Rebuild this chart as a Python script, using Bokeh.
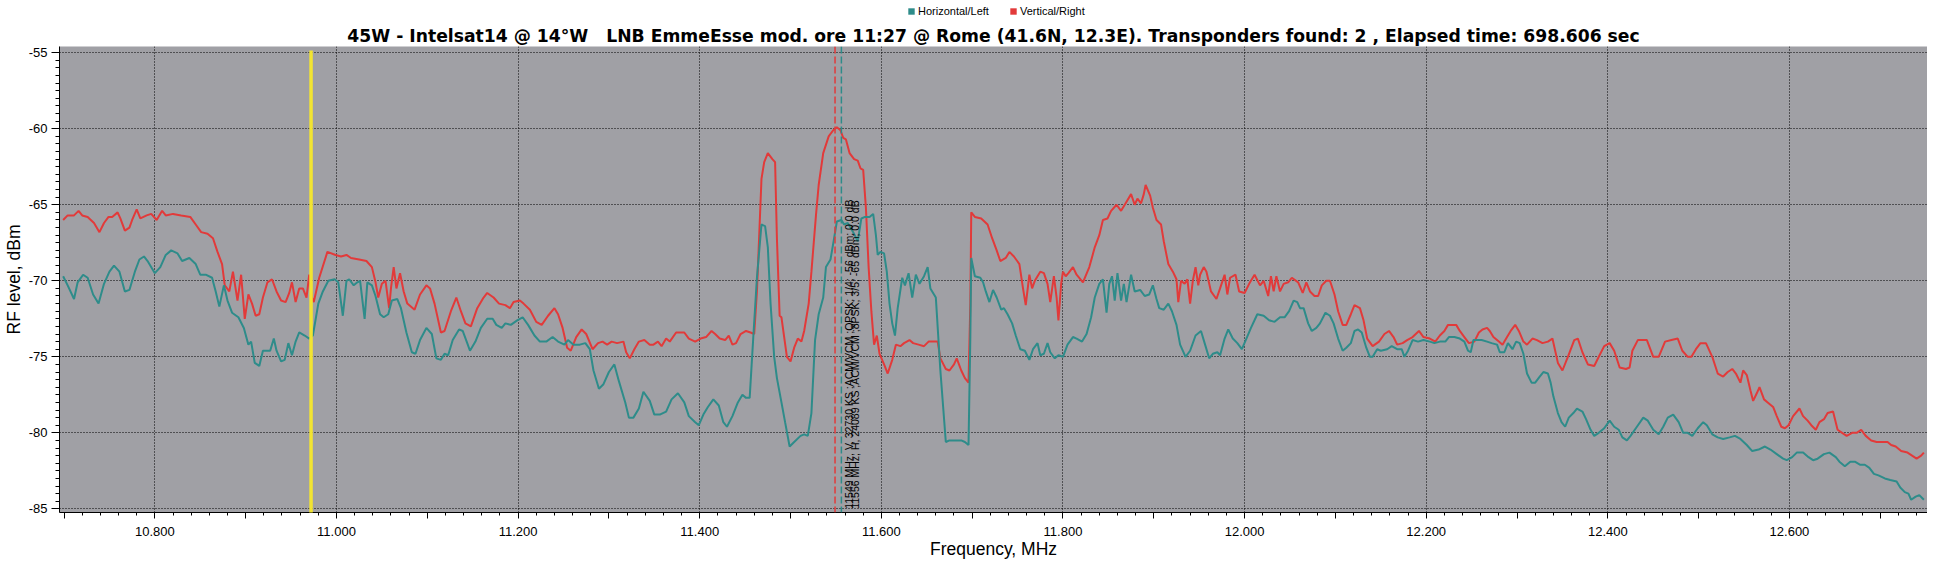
import math
from bokeh.plotting import figure
from bokeh.layouts import column
from bokeh.models import (Range1d, SingleIntervalTicker, CustomJSTickFormatter, Span,
                          Arrow, Legend, LegendItem, ColumnDataSource, Title)
from bokeh.core.properties import value
from bokeh.embed import file_html
from bokeh.resources import INLINE

# ---------------- data (GHz, dBm) ----------------
freq_h = [10.699, 10.704, 10.711, 10.715, 10.721, 10.726, 10.732, 10.738, 10.744, 10.750, 10.755, 10.761,
          10.767, 10.772, 10.778, 10.783, 10.788, 10.792, 10.800, 10.806, 10.812, 10.818, 10.825, 10.830,
          10.838, 10.845, 10.850, 10.856, 10.863, 10.867, 10.871, 10.876, 10.880, 10.885, 10.892, 10.898,
          10.903, 10.906, 10.910, 10.915, 10.919, 10.924, 10.927, 10.931, 10.934, 10.939, 10.943, 10.947,
          10.951, 10.955, 10.959, 10.965, 10.970, 10.974, 10.980, 10.985, 10.991, 10.998, 11.002, 11.007,
          11.011, 11.014, 11.019, 11.023, 11.026, 11.031, 11.034, 11.039, 11.043, 11.048, 11.052, 11.057,
          11.061, 11.067, 11.071, 11.077, 11.083, 11.087, 11.092, 11.099, 11.105, 11.110, 11.115, 11.119,
          11.123, 11.128, 11.135, 11.139, 11.144, 11.147, 11.153, 11.159, 11.166, 11.172, 11.176, 11.182,
          11.186, 11.192, 11.199, 11.205, 11.211, 11.218, 11.224, 11.231, 11.238, 11.244, 11.251, 11.255,
          11.261, 11.268, 11.274, 11.279, 11.283, 11.289, 11.294, 11.300, 11.306, 11.311, 11.318, 11.322,
          11.327, 11.333, 11.338, 11.345, 11.350, 11.356, 11.363, 11.369, 11.376, 11.383, 11.388, 11.395,
          11.399, 11.404, 11.409, 11.415, 11.421, 11.426, 11.430, 11.436, 11.442, 11.447, 11.451, 11.455,
          11.459, 11.463, 11.468, 11.472, 11.475, 11.478, 11.482, 11.485, 11.490, 11.494, 11.499, 11.504,
          11.511, 11.515, 11.519, 11.523, 11.527, 11.531, 11.536, 11.539, 11.544, 11.548, 11.551, 11.556,
          11.559, 11.563, 11.569, 11.574, 11.578, 11.582, 11.587, 11.591, 11.594, 11.596, 11.599, 11.603,
          11.606, 11.609, 11.612, 11.615, 11.618, 11.623, 11.626, 11.630, 11.634, 11.638, 11.642, 11.647,
          11.651, 11.654, 11.660, 11.665, 11.671, 11.675, 11.681, 11.688, 11.692, 11.696, 11.698, 11.699,
          11.703, 11.709, 11.712, 11.715, 11.719, 11.723, 11.727, 11.732, 11.735, 11.739, 11.744, 11.748,
          11.753, 11.758, 11.763, 11.767, 11.772, 11.775, 11.779, 11.783, 11.786, 11.791, 11.795, 11.800,
          11.805, 11.811, 11.815, 11.821, 11.826, 11.831, 11.835, 11.840, 11.844, 11.848, 11.851, 11.854,
          11.857, 11.860, 11.864, 11.867, 11.870, 11.875, 11.879, 11.885, 11.890, 11.895, 11.899, 11.903,
          11.906, 11.911, 11.916, 11.920, 11.925, 11.929, 11.935, 11.940, 11.946, 11.952, 11.956, 11.961,
          11.965, 11.970, 11.973, 11.978, 11.982, 11.987, 11.992, 11.997, 12.002, 12.007, 12.014, 12.021,
          12.027, 12.033, 12.039, 12.044, 12.049, 12.054, 12.058, 12.061, 12.065, 12.070, 12.074, 12.079,
          12.083, 12.089, 12.094, 12.098, 12.103, 12.108, 12.112, 12.117, 12.121, 12.125, 12.129, 12.134,
          12.138, 12.141, 12.146, 12.150, 12.157, 12.162, 12.168, 12.173, 12.176, 12.180, 12.185, 12.191,
          12.197, 12.204, 12.209, 12.215, 12.221, 12.225, 12.231, 12.237, 12.242, 12.246, 12.249, 12.252,
          12.256, 12.261, 12.267, 12.272, 12.278, 12.281, 12.286, 12.290, 12.295, 12.299, 12.303, 12.307,
          12.311, 12.316, 12.320, 12.325, 12.329, 12.334, 12.337, 12.340, 12.345, 12.349, 12.353, 12.357,
          12.362, 12.366, 12.372, 12.376, 12.381, 12.385, 12.390, 12.396, 12.402, 12.407, 12.412, 12.416,
          12.421, 12.425, 12.432, 12.439, 12.444, 12.450, 12.456, 12.461, 12.466, 12.472, 12.478, 12.483,
          12.488, 12.493, 12.499, 12.505, 12.509, 12.515, 12.521, 12.527, 12.534, 12.540, 12.546, 12.553,
          12.559, 12.566, 12.573, 12.579, 12.586, 12.593, 12.597, 12.603, 12.608, 12.615, 12.621, 12.626,
          12.631, 12.638, 12.644, 12.651, 12.655, 12.661, 12.667, 12.672, 12.678, 12.683, 12.688, 12.693,
          12.698, 12.705, 12.711, 12.718, 12.722, 12.727, 12.731, 12.734, 12.739, 12.743, 12.748]
level_h = [-69.7, -70.3, -71.2, -70.1, -69.6, -69.8, -70.9, -71.5, -70.2, -69.4, -69.0, -69.4,
           -70.7, -70.6, -69.4, -68.6, -68.4, -68.7, -69.5, -69.1, -68.3, -68.0, -68.2, -68.7,
           -68.5, -68.9, -69.6, -69.6, -69.8, -70.7, -71.7, -70.3, -71.3, -72.1, -72.4, -73.1,
           -74.2, -74.0, -75.4, -75.6, -74.6, -74.6, -74.6, -73.8, -74.6, -75.3, -75.2, -74.1,
           -74.9, -74.0, -73.4, -73.6, -73.8, -73.6, -71.5, -70.7, -70.0, -69.9, -70.1, -72.3,
           -70.0, -69.9, -70.3, -70.1, -70.0, -72.5, -70.1, -70.3, -71.0, -72.2, -72.4, -72.2,
           -71.3, -71.2, -71.8, -73.4, -74.7, -74.8, -73.9, -73.1, -73.5, -75.1, -75.2, -74.8,
           -74.9, -73.9, -73.2, -73.3, -74.1, -74.6, -74.0, -73.1, -72.5, -72.5, -72.9, -73.1,
           -72.8, -72.9, -72.6, -72.4, -72.9, -73.6, -74.0, -74.0, -73.7, -74.0, -74.2, -73.9,
           -74.2, -74.2, -74.1, -74.5, -75.9, -77.1, -76.8, -76.0, -75.5, -76.6, -78.0, -79.0,
           -79.0, -78.4, -77.3, -77.9, -78.8, -78.8, -78.6, -77.8, -77.4, -78.0, -78.9, -79.3,
           -79.5, -78.8, -78.3, -77.8, -78.2, -79.3, -79.6, -78.9, -78.0, -77.5, -77.7, -77.7,
           -73.7, -69.8, -66.3, -66.4, -67.8, -71.5, -75.0, -76.4, -78.0, -79.3, -80.9, -80.6,
           -80.2, -80.1, -80.2, -78.7, -73.9, -72.2, -71.1, -69.1, -68.6, -67.2, -66.1, -66.0,
           -66.3, -66.2, -66.8, -67.4, -65.9, -65.8, -65.8, -65.6, -67.0, -68.3, -68.1, -68.2,
           -69.4, -71.5, -72.8, -73.6, -71.8, -69.8, -70.3, -69.5, -71.1, -69.6, -70.2, -69.7,
           -69.1, -70.5, -71.1, -75.9, -80.6, -80.5, -80.5, -80.5, -80.6, -80.8, -73.7, -68.5,
           -69.7, -69.8, -70.1, -70.7, -71.4, -70.6, -71.1, -71.9, -71.8, -72.2, -72.8, -73.6,
           -74.5, -74.6, -75.2, -74.5, -74.1, -74.9, -74.8, -74.1, -74.7, -75.1, -74.9, -75.0,
           -74.2, -73.7, -73.8, -74.0, -73.5, -72.4, -71.1, -70.2, -69.9, -72.1, -70.2, -69.7,
           -71.3, -69.5, -71.3, -70.2, -71.4, -69.6, -70.7, -70.6, -71.0, -70.9, -70.3, -71.2,
           -71.8, -71.9, -71.5, -72.0, -72.9, -74.2, -75.0, -74.6, -73.6, -73.3, -74.1, -75.1,
           -74.8, -74.7, -74.9, -73.8, -73.2, -73.8, -74.1, -74.5, -73.8, -73.1, -72.2, -72.3,
           -72.6, -72.7, -72.4, -72.4, -72.0, -71.3, -71.4, -71.8, -71.8, -72.8, -73.3, -73.1,
           -72.8, -72.1, -72.3, -72.8, -73.8, -74.6, -74.4, -74.1, -73.3, -73.2, -73.4, -74.4,
           -75.0, -75.0, -74.5, -74.6, -74.5, -74.3, -74.5, -74.5, -75.0, -74.6, -73.9, -74.0,
           -73.9, -74.0, -74.1, -74.0, -74.0, -73.7, -73.7, -73.8, -74.0, -74.6, -74.7, -73.9,
           -73.9, -73.9, -74.0, -74.1, -74.2, -74.7, -74.7, -74.1, -74.5, -74.0, -74.1, -74.8,
           -76.1, -76.7, -76.7, -76.3, -76.0, -76.1, -76.7, -77.6, -78.7, -79.3, -79.6, -79.0,
           -78.7, -78.4, -78.6, -79.1, -79.8, -80.2, -80.0, -79.7, -79.2, -79.6, -79.8, -80.3,
           -80.5, -80.2, -79.6, -79.0, -79.2, -79.8, -80.1, -79.6, -79.0, -78.8, -79.3, -80.0,
           -80.0, -80.2, -79.7, -79.3, -79.5, -80.1, -80.3, -80.4, -80.3, -80.2, -80.4, -80.8,
           -81.2, -81.1, -80.9, -81.1, -81.4, -81.7, -81.8, -81.6, -81.3, -81.3, -81.6, -81.8,
           -81.7, -81.4, -81.3, -81.6, -81.9, -82.2, -81.9, -81.9, -82.1, -82.1, -82.3, -82.7,
           -82.8, -83.0, -83.1, -83.2, -83.6, -83.9, -84.0, -84.4, -84.2, -84.1, -84.4]

freq_v = [10.699, 10.704, 10.711, 10.716, 10.720, 10.726, 10.733, 10.739, 10.744, 10.749, 10.753, 10.759,
          10.762, 10.767, 10.772, 10.775, 10.780, 10.784, 10.791, 10.796, 10.802, 10.808, 10.812, 10.820,
          10.829, 10.839, 10.845, 10.851, 10.858, 10.864, 10.869, 10.874, 10.877, 10.882, 10.886, 10.891,
          10.895, 10.899, 10.903, 10.907, 10.911, 10.915, 10.919, 10.924, 10.929, 10.934, 10.939, 10.944,
          10.948, 10.951, 10.955, 10.959, 10.963, 10.967, 10.970, 10.973, 10.975, 10.981, 10.990, 10.999,
          11.005, 11.011, 11.016, 11.025, 11.033, 11.039, 11.043, 11.046, 11.050, 11.054, 11.058, 11.060,
          11.063, 11.066, 11.070, 11.074, 11.078, 11.086, 11.092, 11.099, 11.103, 11.108, 11.115, 11.119,
          11.126, 11.132, 11.137, 11.142, 11.148, 11.155, 11.162, 11.166, 11.173, 11.179, 11.186, 11.191,
          11.195, 11.202, 11.206, 11.213, 11.220, 11.226, 11.233, 11.240, 11.244, 11.249, 11.254, 11.258,
          11.264, 11.270, 11.275, 11.282, 11.288, 11.293, 11.298, 11.303, 11.309, 11.316, 11.319, 11.323,
          11.328, 11.333, 11.339, 11.345, 11.349, 11.354, 11.358, 11.363, 11.367, 11.374, 11.383, 11.388,
          11.395, 11.401, 11.407, 11.413, 11.417, 11.422, 11.428, 11.432, 11.436, 11.440, 11.445, 11.451,
          11.456, 11.460, 11.463, 11.468, 11.471, 11.475, 11.480, 11.483, 11.485, 11.488, 11.490, 11.493,
          11.496, 11.500, 11.504, 11.508, 11.512, 11.515, 11.520, 11.523, 11.528, 11.531, 11.536, 11.542,
          11.547, 11.551, 11.555, 11.558, 11.561, 11.565, 11.570, 11.574, 11.577, 11.580, 11.583, 11.586,
          11.589, 11.592, 11.595, 11.598, 11.603, 11.607, 11.612, 11.616, 11.621, 11.625, 11.631, 11.635,
          11.641, 11.647, 11.652, 11.659, 11.662, 11.665, 11.671, 11.675, 11.680, 11.683, 11.688, 11.692,
          11.696, 11.698, 11.699, 11.703, 11.710, 11.717, 11.722, 11.727, 11.731, 11.737, 11.741, 11.746,
          11.752, 11.756, 11.759, 11.763, 11.766, 11.769, 11.775, 11.779, 11.783, 11.786, 11.790, 11.793,
          11.795, 11.798, 11.800, 11.803, 11.806, 11.811, 11.815, 11.822, 11.829, 11.835, 11.840, 11.844,
          11.849, 11.853, 11.859, 11.864, 11.869, 11.875, 11.879, 11.882, 11.886, 11.889, 11.891, 11.896,
          11.899, 11.903, 11.908, 11.911, 11.916, 11.921, 11.925, 11.927, 11.930, 11.934, 11.937, 11.940,
          11.943, 11.946, 11.949, 11.951, 11.955, 11.958, 11.963, 11.969, 11.973, 11.978, 11.981, 11.984,
          11.990, 11.994, 12.000, 12.005, 12.011, 12.017, 12.021, 12.026, 12.029, 12.032, 12.035, 12.039,
          12.043, 12.048, 12.052, 12.059, 12.064, 12.068, 12.072, 12.077, 12.081, 12.085, 12.090, 12.094,
          12.099, 12.103, 12.108, 12.112, 12.117, 12.121, 12.127, 12.131, 12.135, 12.141, 12.148, 12.154,
          12.159, 12.164, 12.168, 12.174, 12.179, 12.185, 12.192, 12.197, 12.204, 12.210, 12.215, 12.220,
          12.224, 12.229, 12.233, 12.237, 12.242, 12.247, 12.253, 12.258, 12.262, 12.267, 12.270, 12.274,
          12.280, 12.284, 12.289, 12.293, 12.298, 12.302, 12.307, 12.311, 12.317, 12.322, 12.328, 12.334,
          12.339, 12.345, 12.350, 12.356, 12.363, 12.367, 12.372, 12.378, 12.385, 12.390, 12.396, 12.402,
          12.407, 12.413, 12.420, 12.424, 12.427, 12.433, 12.439, 12.443, 12.450, 12.456, 12.463, 12.470,
          12.477, 12.482, 12.488, 12.492, 12.497, 12.502, 12.508, 12.515, 12.521, 12.527, 12.532, 12.537,
          12.541, 12.546, 12.549, 12.553, 12.557, 12.560, 12.564, 12.567, 12.572, 12.576, 12.582, 12.586,
          12.591, 12.595, 12.599, 12.604, 12.611, 12.615, 12.620, 12.624, 12.629, 12.633, 12.638, 12.642,
          12.648, 12.653, 12.658, 12.663, 12.669, 12.674, 12.679, 12.684, 12.690, 12.696, 12.702, 12.708,
          12.712, 12.717, 12.723, 12.730, 12.735, 12.740, 12.745, 12.748]
level_v = [-66.0, -65.7, -65.7, -65.4, -65.7, -65.8, -66.2, -66.8, -66.2, -65.8, -65.8, -65.5,
           -65.9, -66.7, -66.5, -66.0, -65.3, -65.9, -65.7, -65.6, -66.0, -65.4, -65.7, -65.6,
           -65.7, -65.8, -66.3, -66.8, -66.9, -67.2, -68.1, -68.9, -70.3, -70.7, -69.4, -71.3,
           -69.6, -72.5, -70.9, -71.5, -72.3, -72.2, -71.1, -70.1, -69.9, -70.7, -71.3, -71.4,
           -70.8, -70.1, -71.4, -70.5, -70.5, -71.1, -69.6, -71.1, -71.4, -69.8, -68.1, -68.3,
           -68.4, -68.3, -68.5, -68.6, -68.7, -69.1, -70.1, -71.1, -70.2, -70.0, -71.8, -70.5,
           -69.1, -70.5, -69.5, -70.7, -71.5, -71.9, -70.9, -70.3, -70.5, -71.5, -73.4, -73.3,
           -72.0, -71.1, -72.0, -72.8, -73.0, -71.8, -71.1, -70.8, -71.1, -71.5, -71.6, -71.8,
           -71.4, -71.3, -71.5, -71.9, -72.7, -72.9, -72.3, -71.8, -72.2, -73.1, -74.4, -74.6,
           -73.7, -73.2, -73.5, -74.5, -74.1, -74.0, -74.2, -74.0, -74.1, -74.0, -74.7, -75.1,
           -74.5, -74.0, -73.9, -74.2, -74.2, -74.0, -74.3, -73.8, -74.0, -73.4, -73.4, -73.8,
           -74.0, -73.8, -73.7, -73.3, -73.5, -73.8, -73.9, -73.6, -74.2, -74.1, -73.5, -73.3,
           -73.4, -73.5, -70.7, -63.3, -62.2, -61.6, -62.0, -62.2, -67.2, -72.3, -72.4, -73.7,
           -75.0, -75.3, -74.4, -73.8, -74.0, -73.3, -71.5, -69.4, -65.7, -63.7, -61.6, -60.5,
           -60.1, -59.9, -60.1, -60.6, -60.7, -61.6, -62.0, -62.1, -62.6, -62.7, -65.2, -69.1,
           -72.0, -74.2, -73.6, -74.8, -75.5, -76.1, -75.2, -74.2, -74.3, -74.1, -73.9, -74.1,
           -74.2, -74.3, -74.0, -74.0, -74.0, -75.1, -75.8, -75.9, -75.5, -75.1, -75.9, -76.4,
           -76.7, -71.5, -65.5, -65.8, -65.9, -66.3, -67.2, -68.0, -68.7, -68.5, -68.1, -68.4,
           -68.9, -70.5, -71.6, -69.6, -70.5, -70.0, -69.4, -69.5, -70.2, -71.4, -69.7, -71.1,
           -72.6, -70.2, -69.4, -69.7, -69.5, -69.1, -69.6, -70.1, -69.1, -67.8, -67.0, -66.0,
           -65.9, -65.4, -65.0, -65.4, -64.9, -64.3, -65.0, -64.6, -64.9, -64.3, -63.7, -64.4,
           -65.2, -66.0, -66.3, -67.4, -68.9, -69.4, -69.9, -71.4, -70.0, -70.2, -69.9, -71.5,
           -70.0, -69.1, -70.3, -69.6, -69.1, -69.4, -70.7, -71.2, -70.5, -69.6, -70.9, -69.8,
           -69.6, -70.7, -70.8, -70.2, -69.6, -70.3, -70.0, -71.0, -69.7, -70.7, -69.7, -70.7,
           -70.2, -70.1, -69.8, -70.1, -70.8, -70.1, -70.7, -71.0, -71.0, -70.3, -70.0, -70.0,
           -70.9, -72.0, -72.9, -72.9, -72.2, -71.6, -71.8, -72.6, -73.8, -74.3, -74.0, -73.5,
           -73.3, -73.7, -74.2, -74.1, -73.9, -73.7, -73.3, -73.7, -73.8, -74.0, -73.6, -73.3,
           -72.9, -72.9, -72.9, -73.3, -73.7, -74.1, -74.0, -73.4, -73.2, -73.1, -73.3, -73.7,
           -74.0, -74.2, -73.7, -73.3, -72.9, -73.3, -74.0, -74.2, -73.8, -73.9, -74.1, -74.0,
           -73.8, -75.4, -75.9, -75.0, -73.9, -73.8, -74.7, -75.5, -75.6, -75.0, -74.3, -74.1,
           -74.6, -75.7, -75.8, -75.7, -74.6, -73.9, -73.9, -73.9, -75.0, -75.0, -74.0, -73.9,
           -73.8, -74.6, -75.0, -75.0, -74.5, -74.1, -74.1, -75.0, -76.1, -76.3, -76.0, -75.8,
           -76.1, -76.7, -75.9, -76.2, -77.2, -77.9, -77.4, -77.0, -77.8, -78.0, -78.3, -78.9,
           -79.6, -79.7, -79.5, -78.9, -78.4, -78.9, -79.2, -79.5, -79.8, -79.3, -79.1, -78.7,
           -78.6, -79.8, -80.0, -80.2, -80.0, -80.0, -79.8, -80.2, -80.5, -80.6, -80.6, -80.6,
           -80.8, -80.9, -81.2, -81.3, -81.5, -81.7, -81.5, -81.3]

series_names = ["Horizontal/Left", "Vertical/Right"]
marker_freq = 10.972              # yellow marker (GHz)
marker_span = (-54.85, -87.4)     # yellow marker extent (dBm)
tp_freqs = [11.549, 11.556]       # transponders found (GHz)
tp_labels = ["11549 MHz, V, 32730 KS ;ACM/VCM ;QPSK; 1/4; -56 dBm; 0.0 dB",
             "11556 MHz, H, 24089 KS ;ACM/VCM ;8PSK; 3/5; -65 dBm; 0.0 dB"]
tp_label_level = -85.0
x_limits = (10.695, 12.752)
y_limits = (-85.24, -54.59)
title_text = ("45W - Intelsat14 @ 14°W\u00a0\u00a0 LNB EmmeEsse mod. ore 11:27 @ Rome (41.6N, 12.3E). "
              "Transponders found: 2 , Elapsed time: 698.606 sec")

TEAL = "#2E8C8A"
RED = "#E23A3A"
YELLOW = "#F2E431"
FONT = "Liberation Sans"
FRAME_H = 466
WIDTH = 1927
LEGEND_ROW_H = 22

# ---------------- legend row (own small figure above the chart) ----------------
leg = figure(width=WIDTH, height=LEGEND_ROW_H, output_backend="svg", toolbar_location=None,
             x_range=Range1d(0, 1), y_range=Range1d(0, 1), x_axis_type=None, y_axis_type=None,
             background_fill_color="white", border_fill_color="white", outline_line_color=None)
leg.min_border_left = 0
leg.min_border_right = 0
leg.min_border_top = 0
leg.min_border_bottom = 0
leg.xgrid.visible = False
leg.ygrid.visible = False
# swatch renderers for the legend; their boxes lie outside this row's visible range
sq_h = leg.quad(left=[2], right=[3], top=[3], bottom=[2], fill_color=TEAL, line_color=None)
sq_v = leg.quad(left=[2], right=[3], top=[3], bottom=[2], fill_color=RED, line_color=None)
legend = Legend(items=[LegendItem(label=series_names[0], renderers=[sq_h]),
                       LegendItem(label=series_names[1], renderers=[sq_v])],
                orientation="horizontal", location=(848, 5),
                label_text_font=FONT, label_text_font_size="11px", label_text_color="black",
                glyph_width=8, glyph_height=8, label_standoff=3, spacing=20,
                padding=0, margin=0, label_height=12,
                border_line_color=None, background_fill_alpha=0)
leg.add_layout(legend, "center")

# ---------------- main chart ----------------
p = figure(width=WIDTH, frame_height=FRAME_H, output_backend="svg", toolbar_location=None,
           x_range=Range1d(*x_limits), y_range=Range1d(*y_limits), title=None,
           background_fill_color="#A0A0A5", border_fill_color="white", outline_line_color=None)
p.min_border_left = 0
p.min_border_right = 0
p.min_border_bottom = 0
p.min_border_top = 0

p.add_layout(Title(text=title_text, text_font="DejaVu Sans", text_font_size="17.2px",
                   text_font_style="bold", align="center", standoff=2, offset=6,
                   text_color="black"), "above")

# axes
p.xaxis.ticker = SingleIntervalTicker(interval=0.1, num_minor_ticks=5)
p.xaxis.formatter = CustomJSTickFormatter(code="return (Math.round(tick*10) % 2 == 0) ? tick.toFixed(3) : '';")
p.xgrid.ticker = SingleIntervalTicker(interval=0.2)
p.yaxis.ticker = SingleIntervalTicker(interval=5, num_minor_ticks=10)
p.yaxis.formatter = CustomJSTickFormatter(code="return tick.toFixed(0);")
p.xaxis.axis_label = "Frequency, MHz"
p.yaxis.axis_label = "RF level, dBm"
for ax in (p.xaxis, p.yaxis):
    ax.axis_line_color = "black"
    ax.major_tick_line_color = "black"
    ax.minor_tick_line_color = "black"
    ax.major_tick_in = 0
    ax.minor_tick_in = 0
    ax.major_label_text_font = FONT
    ax.major_label_text_font_size = "13px"
    ax.major_label_text_color = "black"
    ax.axis_label_text_font = FONT
    ax.axis_label_text_font_size = "17.5px"
    ax.axis_label_text_font_style = "normal"
    ax.axis_label_text_color = "black"
p.xaxis.major_tick_out = 6
p.xaxis.minor_tick_out = 3
p.xaxis.major_label_standoff = 8
p.xaxis.axis_label_standoff = 0
p.yaxis.major_tick_out = 8
p.yaxis.minor_tick_out = 4
p.yaxis.major_label_standoff = 4
p.yaxis.axis_label_standoff = 2

for g in (p.xgrid, p.ygrid):
    g.grid_line_color = "black"
    g.grid_line_dash = "1 2"
    g.grid_line_width = 1

# series
r_v = p.line(freq_v, level_v, line_color=RED, line_width=2)
r_h = p.line(freq_h, level_h, line_color=TEAL, line_width=2)

# transponder markers
for f, c in zip(tp_freqs, [RED, TEAL]):
    p.add_layout(Span(location=f, dimension="height", line_color=c, line_dash="7 3", line_width=1.5))

src = ColumnDataSource(dict(x=tp_freqs, y=[tp_label_level] * len(tp_freqs), text=tp_labels))
p.text(x="x", y="y", text="text", source=src, angle=math.pi / 2, text_align="left",
       text_baseline="top", x_offset=8, text_font=value(FONT), text_font_size="10.5px",
       text_color="black")

# yellow marker line
p.add_layout(Arrow(end=None, x_start=marker_freq, y_start=marker_span[0],
                   x_end=marker_freq, y_end=marker_span[1], line_color=YELLOW, line_width=3.5))

layout = column(leg, p, spacing=0)
open("out.html", "w").write(file_html(layout, INLINE))
